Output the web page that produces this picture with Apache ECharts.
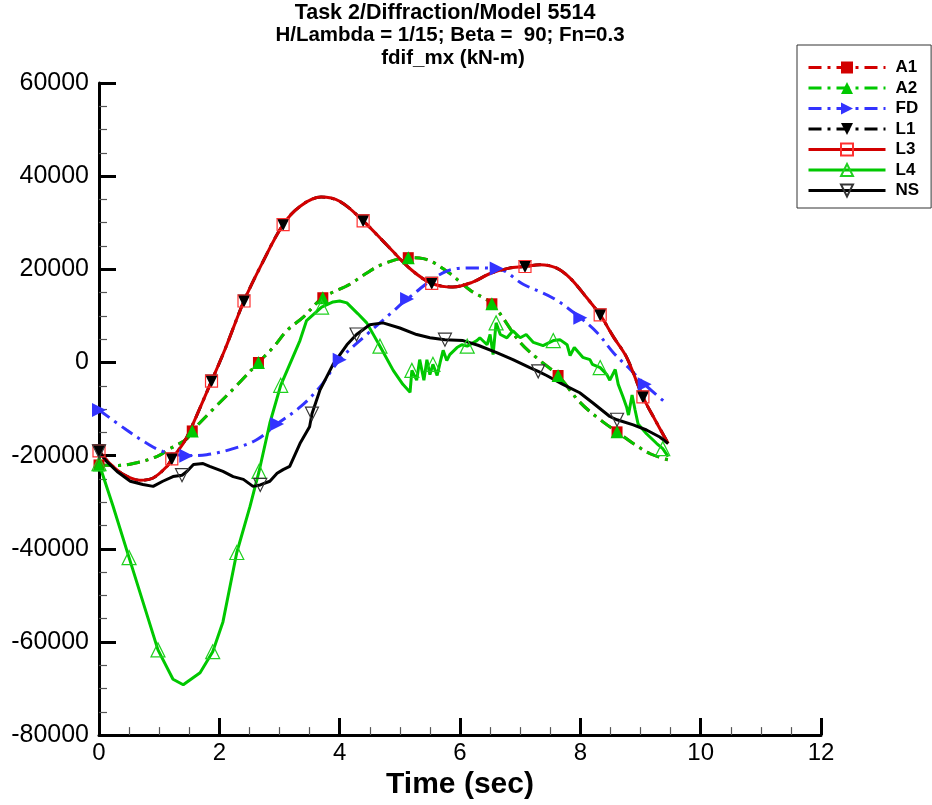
<!DOCTYPE html>
<html><head><meta charset="utf-8">
<script src="https://cdn.jsdelivr.net/npm/echarts/dist/echarts.min.js"></script>
<style>html,body{margin:0;padding:0;background:#fff;}#c{width:932px;height:805px;}</style>
</head><body><div id="c"></div>
<script>
// ---- Axis definitions ----
const xTickValues = [0, 2, 4, 6, 8, 10, 12];
const yTickValues = [-80000, -60000, -40000, -20000, 0, 20000, 40000, 60000];
const titleLines = ['Task 2/Diffraction/Model 5514', 'H/Lambda = 1/15; Beta =  90; Fn=0.3', 'fdif_mx (kN-m)'];

// ---- A1 / A2 (dash-dot, nearly identical) ----
const A_t = [0, 0.3, 0.57, 0.96, 1.18, 1.46, 1.55, 1.9, 2.3, 2.65, 2.9, 3.12, 3.4, 3.72, 4.17, 4.4, 4.7, 5.14, 5.39, 5.78, 6.17, 6.53, 7.0, 7.3, 7.63, 7.99, 8.33, 8.61, 8.88, 9.16, 9.46];
const A_v = [-22000, -22100, -21700, -20200, -18500, -16400, -14700, -10000, -4800, 0, 3300, 6800, 9800, 13900, 16800, 18800, 21000, 22500, 22300, 19600, 15500, 12600, 4300, 700, -2800, -8500, -12300, -14900, -17400, -19600, -20900];
const A_marks = [0, 1.55, 2.65, 3.72, 5.14, 6.53, 7.63, 8.61];

// ---- FD ----
const FD_t = [0, 0.46, 0.8, 1.06, 1.45, 1.79, 2.23, 2.62, 2.96, 3.34, 3.67, 4.0, 4.45, 4.89, 5.12, 5.78, 6.2, 6.61, 7.05, 7.55, 8.0, 8.28, 8.55, 8.83, 9.07, 9.44];
const FD_v = [-10200, -14500, -17400, -19100, -20000, -19800, -18500, -16600, -13200, -9600, -5300, 600, 6000, 11000, 13600, 19600, 20300, 20200, 16800, 13800, 9600, 6400, 2100, -1500, -4700, -8900];
const FD_marks = [0, 1.45, 2.96, 4.0, 5.12, 6.61, 8.0, 9.07];

// ---- L1 / L3 (nearly identical) ----
const L_t = [0, 0.18, 0.4, 0.68, 0.9, 1.13, 1.21, 1.4, 1.51, 1.87, 2.1, 2.41, 2.7, 3.06, 3.35, 3.69, 4.0, 4.39, 4.8, 5.2, 5.53, 5.88, 6.2, 6.5, 6.8, 7.08, 7.33, 7.6, 7.83, 8.1, 8.33, 8.55, 8.77, 9.04, 9.25, 9.46];
const L_v = [-19000, -21700, -24000, -25300, -24800, -22300, -20700, -17400, -14700, -4000, 3000, 13200, 21000, 29600, 33600, 35500, 34600, 30400, 25000, 19800, 17000, 16200, 17200, 19100, 20200, 20600, 21000, 20300, 18100, 14000, 10200, 5500, 1100, -7400, -12500, -17400];
const L_marks = [0, 1.21, 1.87, 2.41, 3.06, 4.39, 5.53, 7.08, 8.33, 9.04];

// ---- L4 ----
const L4_t = [0, 0.23, 0.5, 0.98, 1.23, 1.4, 1.68, 1.89, 2.06, 2.29, 2.51, 2.66, 2.84, 3.02, 3.34, 3.45, 3.7, 3.89, 4.0, 4.12, 4.3, 4.45, 4.67, 4.89, 5.05, 5.17, 5.2, 5.28, 5.33, 5.4, 5.45, 5.5, 5.55, 5.62, 5.67, 5.72, 5.78, 5.83, 5.95, 6.03, 6.12, 6.28, 6.33, 6.45, 6.5, 6.55, 6.6, 6.67, 6.78, 6.88, 7.0, 7.1, 7.22, 7.38, 7.55, 7.66, 7.78, 7.83, 7.9, 8.04, 8.16, 8.2, 8.33, 8.44, 8.49, 8.58, 8.63, 8.71, 8.77, 8.8, 8.86, 8.91, 8.96, 9.1, 9.27, 9.37, 9.46];
const L4_v = [-21700, -30700, -41900, -61700, -68000, -69200, -66600, -62100, -55700, -40800, -30900, -23400, -13000, -4900, 4700, 9000, 11900, 13000, 13200, 12800, 10500, 8500, 3500, -1700, -4700, -6400, -1700, -3800, 600, -3800, 600, -2600, -400, -2800, 0, 2600, 400, 1700, 3200, 3800, 3500, 4700, 5300, 3800, 6000, 1700, 8500, 6000, 5300, 6800, 5300, 6000, 4300, 3600, 4700, 4900, 3800, 1500, 3200, 1100, 600, -400, -1100, -2600, -3800, -1500, -4700, -7400, -9600, -11300, -7000, -10200, -13200, -15300, -17400, -18500, -20200];
const L4_marks = [0, 0.5, 0.98, 1.89, 2.29, 2.66, 3.02, 3.7, 4.67, 5.2, 5.55, 6.12, 6.6, 7.55, 8.33, 9.37];

// ---- NS ----
const NS_t = [0, 0.1, 0.3, 0.52, 0.73, 0.9, 1.06, 1.23, 1.38, 1.46, 1.57, 1.73, 1.84, 2.06, 2.23, 2.4, 2.56, 2.68, 2.84, 2.96, 3.06, 3.17, 3.34, 3.5, 3.54, 3.67, 3.89, 4.12, 4.28, 4.5, 4.72, 5.0, 5.28, 5.5, 5.75, 6.05, 6.3, 6.61, 6.88, 7.16, 7.3, 7.44, 7.71, 7.99, 8.21, 8.49, 8.61, 8.88, 9.1, 9.32, 9.46];
const NS_v = [-19100, -20900, -23400, -25500, -26200, -26600, -25500, -24500, -24200, -23400, -21900, -21700, -22300, -23400, -24500, -25100, -26600, -26300, -25500, -23800, -23000, -22300, -17400, -13800, -11000, -6000, -400, 3800, 6000, 8100, 8500, 7400, 6000, 5300, 4900, 4700, 3700, 2100, 600, -1100, -1900, -2800, -4700, -6500, -8700, -11600, -12300, -13400, -14500, -16000, -17400];
const NS_marks = [0, 1.38, 2.68, 3.54, 4.28, 5.75, 7.3, 8.61];

// ---- styles ----
const RED = '#d20000', GREEN = '#00c800', BLUE = '#3333ff', BLACK = '#000000';
const DASHDOT = [13, 6, 3, 6];
const DOWN_TRI = 'path://M0,0L10,0L5,9Z';
const RIGHT_TRI = 'path://M0,0L9,5L0,10Z';

function build(ts, vs, marks) {
  return ts.map((t, i) => marks.indexOf(t) >= 0 ? { value: [t, vs[i]] } : { value: [t, vs[i]], symbol: 'none' });
}

function series(name, ts, vs, marks, opt) {
  return Object.assign({
    name: name, type: 'line', data: build(ts, vs, marks),
    showSymbol: true, showAllSymbol: true, animation: false,
    clip: true
  }, opt);
}

const seriesList = [
  series('A1', A_t, A_v, A_marks, {
    smooth: 0.35, symbol: 'rect', symbolSize: 11,
    lineStyle: { color: RED, width: 3, type: DASHDOT },
    itemStyle: { color: RED }
  }),
  series('A2', A_t, A_v, A_marks, {
    smooth: 0.35, symbol: 'triangle', symbolSize: 13,
    lineStyle: { color: GREEN, width: 3, type: DASHDOT },
    itemStyle: { color: GREEN }
  }),
  series('FD', FD_t, FD_v, FD_marks, {
    smooth: 0.35, symbol: RIGHT_TRI, symbolSize: 14,
    lineStyle: { color: BLUE, width: 3, type: DASHDOT },
    itemStyle: { color: BLUE }
  }),
  series('L1', L_t, L_v, L_marks, {
    smooth: 0.35, symbol: DOWN_TRI, symbolSize: 13,
    lineStyle: { color: BLACK, width: 3, type: DASHDOT },
    itemStyle: { color: BLACK }
  }),
  series('L3', L_t, L_v, L_marks, {
    smooth: 0.35, symbol: 'rect', symbolSize: 12,
    lineStyle: { color: RED, width: 3, type: 'solid' },
    itemStyle: { color: 'rgba(255,255,255,0)', borderColor: '#ff3030', borderWidth: 1.2 }
  }),
  series('L4', L4_t, L4_v, L4_marks, {
    smooth: false, symbol: 'triangle', symbolSize: 14,
    lineStyle: { color: GREEN, width: 3, type: 'solid' },
    itemStyle: { color: 'rgba(255,255,255,0)', borderColor: '#20d020', borderWidth: 1.2 }
  }),
  series('NS', NS_t, NS_v, NS_marks, {
    smooth: false, symbol: DOWN_TRI, symbolSize: 13,
    lineStyle: { color: BLACK, width: 3, type: 'solid' },
    itemStyle: { color: 'rgba(255,255,255,0)', borderColor: '#333', borderWidth: 1.2 }
  })
];

const FONT = 'Liberation Sans, Arial, Helvetica, sans-serif';
function titleLine(text, cx, top, size) {
  return { text: text, left: cx, top: top, textAlign: 'center', padding: 0,
    textStyle: { fontFamily: FONT, fontWeight: 'bold', fontSize: size, color: '#000' } };
}
const chart = echarts.init(document.getElementById('c'), null, { renderer: 'canvas' });
chart.setOption({
  backgroundColor: '#fff',
  animation: false,
  title: [
    titleLine(titleLines[0], 445, 2, 21.5),
    titleLine(titleLines[1], 450, 25, 20.5),
    titleLine(titleLines[2], 453, 48, 20.5)
  ],
  legend: {
    orient: 'vertical', left: 797, top: 45,
    padding: [14, 12, 9, 10],
    itemWidth: 77, itemHeight: 15, itemGap: 3.5,
    borderColor: '#333', borderWidth: 1, backgroundColor: '#fff',
    lineStyle: { width: 3 },
    textStyle: { fontFamily: FONT, fontWeight: 'bold', fontSize: 17, color: '#000', padding: [0, 0, 0, 5] },
    data: ['A1', 'A2', 'FD', 'L1', 'L3', 'L4', 'NS']
  },
  grid: { left: 99, right: 111, top: 83, bottom: 65, containLabel: false },
  xAxis: {
    type: 'value', min: xTickValues[0], max: xTickValues[xTickValues.length - 1], interval: 2,
    name: 'Time (sec)', nameLocation: 'middle', nameGap: 28,
    nameTextStyle: { fontFamily: FONT, fontWeight: 'bold', fontSize: 30, color: '#000' },
    axisLine: { show: true, onZero: false, lineStyle: { color: '#000', width: 3 } },
    axisTick: { show: true, inside: true, length: 17, lineStyle: { color: '#000', width: 3 } },
    minorTick: { show: true, splitNumber: 4, length: 8, lineStyle: { color: '#555', width: 1.2 } },
    splitLine: { show: false },
    axisLabel: { fontFamily: FONT, fontSize: 24, color: '#000', margin: 6, formatter: v => String(v) }
  },
  yAxis: {
    type: 'value', min: yTickValues[0], max: yTickValues[yTickValues.length - 1], interval: 20000,
    axisLine: { show: true, onZero: false, lineStyle: { color: '#000', width: 3 } },
    axisTick: { show: true, inside: true, length: 17, lineStyle: { color: '#000', width: 3 } },
    minorTick: { show: true, splitNumber: 4, length: 8, lineStyle: { color: '#555', width: 1.2 } },
    splitLine: { show: false },
    axisLabel: { fontFamily: FONT, fontSize: 25, color: '#000', margin: 10, formatter: v => String(v) }
  },
  series: seriesList
});
</script>
</body></html>
